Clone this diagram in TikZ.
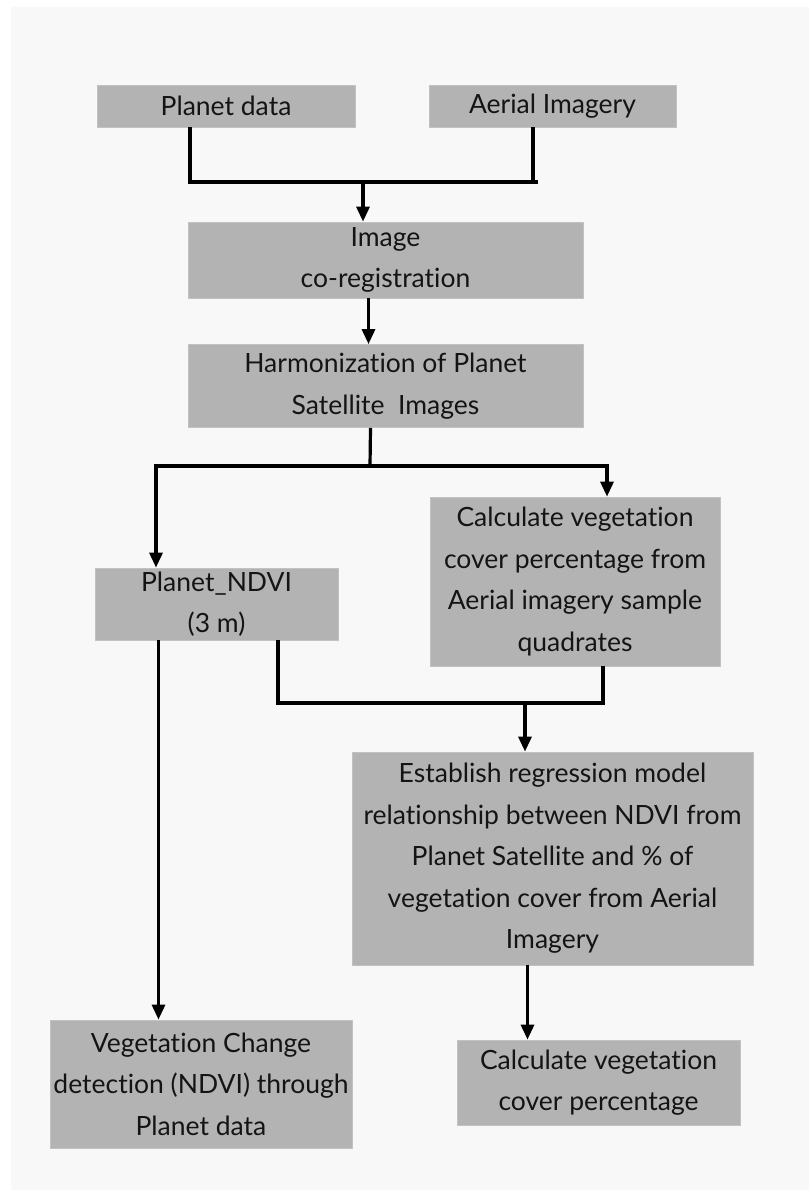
\documentclass[tikz,border=0pt]{standalone}
\usepackage{fontspec}
\setmainfont{Lato}[Ligatures=NoCommon]
\usepackage{tikz}
\usetikzlibrary{arrows.meta}

\definecolor{panelgray}{HTML}{F8F8F8}
\definecolor{boxgray}{HTML}{B3B3B3}
\definecolor{textgray}{HTML}{141414}

\begin{document}
\begin{tikzpicture}[x=1pt,y=-1pt,
	box/.style={fill=boxgray, draw=boxgray!80!white, line width=0.8pt, text=textgray,
		align=center, inner sep=0pt, font=\fontsize{26.5}{41.5}\selectfont},
	line/.style={line width=3.2pt, black},
	arrow/.style={line, -{Triangle[width=13pt,length=15pt]}}]

	% ---- canvas

	\useasboundingbox (0,0) rectangle (809,1193);
	\fill[panelgray] (11,7) rectangle (809,1190);

	% ---- boxes

	\node[box, minimum width=258, minimum height=42] (planet) at (226,106) {Planet data};
	\node[box, minimum width=247, minimum height=42] (aerial) at (552.5,106) {Aerial Imagery};
	\node[box, minimum width=395, minimum height=76] (coreg) at (385.5,260) {Image\\co-registration};
	\node[box, minimum width=395, minimum height=83] (harmon) at (385.5,386) {Harmonization of Planet\\Satellite\ \ Images};
	\node[box, minimum width=243, minimum height=72] (ndvi) at (216.5,604) {Planet\_NDVI\\(3 m)};
	\node[box, minimum width=290, minimum height=169] (quad) at (575,581.5)
		{Calculate vegetation\\cover percentage from\\Aerial imagery sample\\quadrates};
	\node[box, minimum width=401, minimum height=213] (regr) at (552.5,858.5)
		{Establish regression model\\relationship between NDVI from\\Planet Satellite and \% of\\vegetation cover from Aerial\\Imagery};
	\node[box, minimum width=302, minimum height=128] (change) at (201,1084)
		{Vegetation Change\\detection (NDVI) through\\Planet data};
	\node[box, minimum width=283, minimum height=85] (cover) at (598.5,1082.5)
		{Calculate vegetation\\cover percentage};

	% ---- junctions

	\coordinate (jl) at (190,182);
	\coordinate (jr) at (533,182);
	\coordinate (jm) at (363,182);

	\coordinate (sl) at (156,466);
	\coordinate (sm) at (370,466);
	\coordinate (sr) at (607,466);

	\coordinate (ml) at (278,703);
	\coordinate (mr) at (603,703);
	\coordinate (mm) at (525,703);

	% ---- connectors

	\draw[line] (planet.south -| jl) -- (jl) -- ([xshift=5pt]jr);
	\draw[line] (aerial.south -| jr) -- (jr);
	\draw[arrow] (jm) -- (coreg.north -| jm);

	\draw[arrow] ([xshift=-17pt]coreg.south) coordinate (cg) -- (cg |- harmon.north);

	\draw[line] ([xshift=-15pt]harmon.south) -- (sm);
	\draw[arrow] (sm) -| (ndvi.north -| sl);
	\draw[arrow] (sm) -| (quad.north -| sr);

	\draw[line] (ndvi.south -| ml) -- (ml) -- (mr) -- (quad.south -| mr);
	\draw[arrow] (mm) -- (regr.north -| mm);

	\draw[arrow] ([xshift=-58pt]ndvi.south) coordinate (nd) -- (nd |- change.north);
	\draw[arrow] ([xshift=-25pt]regr.south) coordinate (rg) -- (rg |- cover.north);

\end{tikzpicture}
\end{document}
